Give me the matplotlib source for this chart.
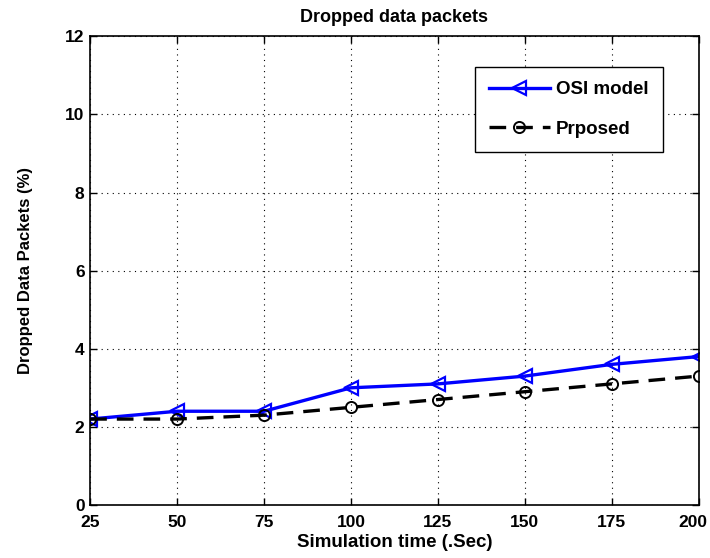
import matplotlib
matplotlib.use("Agg")
import matplotlib.pyplot as plt
from matplotlib.transforms import ScaledTranslation

# Values
sim_time = [25, 50, 75, 100, 125, 150, 175, 200]
osi_model = [2.2, 2.4, 2.4, 3.0, 3.1, 3.3, 3.6, 3.8]
proposed = [2.2, 2.2, 2.3, 2.5, 2.7, 2.9, 3.1, 3.3]
y_ticks = [0, 2, 4, 6, 8, 10, 12]

plt.rcParams["font.family"] = ["Liberation Sans", "DejaVu Sans"]
plt.rcParams["font.weight"] = "bold"

fig = plt.figure(figsize=(7.1, 5.58), dpi=100)
ax = fig.add_axes([0.127, 0.095, 0.857, 0.84])

ax.plot(sim_time, osi_model, color="blue", linewidth=2.4, marker="<",
        markersize=10, markerfacecolor="none", markeredgewidth=1.6, label="OSI model")
ax.plot(sim_time, proposed, color="black", linewidth=2.4, linestyle=(0, (5, 3)),
        marker="o", markersize=8, markerfacecolor="none", markeredgewidth=1.4,
        label="Prposed")

ax.set_xlim(25, 200)
ax.set_ylim(0, 12)
ax.set_xticks(sim_time)
ax.set_yticks(y_ticks)
ax.tick_params(direction="in", labelsize=12.5, width=1, length=5, top=True, right=True)
ax.tick_params(axis="x", pad=7)
ax.tick_params(axis="y", pad=4)
for lbl in ax.get_xticklabels() + ax.get_yticklabels():
    lbl.set_fontweight("bold")
# nudge the last x label so it stays inside the image
last = ax.get_xticklabels()[-1]
last.set_transform(last.get_transform() + ScaledTranslation(-4 / 72, 0, fig.dpi_scale_trans))
ax.grid(True, color="black", linestyle=(0, (1, 4)), linewidth=0.8)
for s in ax.spines.values():
    s.set_linewidth(1.2)

ax.set_title("Dropped data packets", fontsize=13, fontweight="bold", pad=10)
ax.set_xlabel("Simulation time (.Sec)", fontsize=13.5, fontweight="bold", labelpad=3)
ax.set_ylabel("Dropped Data Packets (%)", fontsize=12, fontweight="bold", labelpad=23)

leg = ax.legend(loc="upper right", bbox_to_anchor=(0.941, 0.934), borderaxespad=0,
                fontsize=13.5, fancybox=False, edgecolor="black", framealpha=1,
                handlelength=3.26, handletextpad=0.33, borderpad=0.75, labelspacing=1.2)
leg.get_frame().set_linewidth(1.0)

fig.savefig("out.png", dpi=100)
